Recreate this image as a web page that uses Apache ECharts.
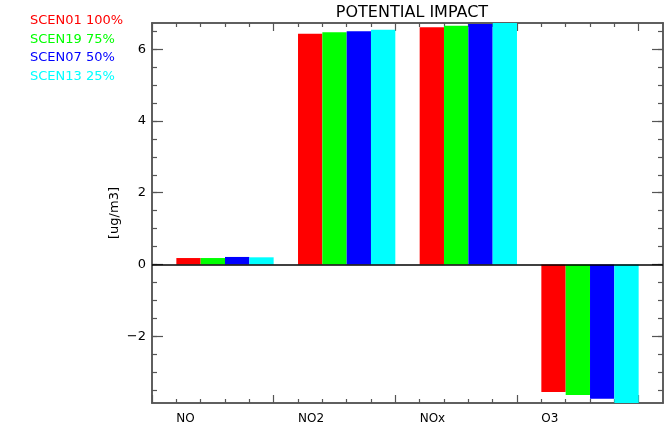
<!DOCTYPE html>
<html>
<head>
<meta charset="utf-8">
<script src="https://cdn.jsdelivr.net/npm/echarts@6/dist/echarts.min.js"></script>
<style>
html, body { margin: 0; padding: 0; background: #fff; }
#main { width: 668px; height: 432px; }
</style>
</head>
<body>
<div id="main"></div>
<script>
// pollutants along the x axis
var species = ['NO', 'NO2', 'NOx', 'O3'];
// scenarios, one bar per pollutant each
var scenNames = ['SCEN01 100%', 'SCEN19 75%', 'SCEN07 50%', 'SCEN13 25%'];
var scenColors = ['#ff0000', '#00ff00', '#0000ff', '#00ffff'];
var scen01 = [0.18, 6.43, 6.61, -3.55];
var scen19 = [0.18, 6.47, 6.65, -3.64];
var scen07 = [0.21, 6.50, 6.70, -3.74];
var scen13 = [0.20, 6.54, 6.73, -3.86];
var yMajor = [-2, 0, 2, 4, 6];
var yMinor = [-3.5, -3, -2.5, -2, -1.5, -1, -0.5, 0, 0.5, 1, 1.5, 2, 2.5, 3, 3.5, 4, 4.5, 5, 5.5, 6, 6.5];
var xMajor = [0, 5, 10, 15, 20];
var xMinor = [1, 2, 3, 4, 6, 7, 8, 9, 11, 12, 13, 14, 16, 17, 18, 19];

var allScen = [scen01, scen19, scen07, scen13];
var axisCol = '#555';
var font = 'DejaVu Sans';

var mychart = echarts.init(document.getElementById('main'));

function xAxisDef(pos, custom, len, withLabels) {
    return {
        type: 'value', position: pos, min: 0, max: 21,
        axisLine: {show: true, onZero: false, lineStyle: {color: axisCol, width: 1.5}},
        axisTick: {show: true, inside: true, length: len, customValues: custom,
            lineStyle: {color: axisCol, width: 1.2}},
        axisLabel: withLabels ? {
            show: true, customValues: species.map(function (s, i) { return 1 + 5 * i; }),
            formatter: function (v) { return species[Math.round((v - 1) / 5)]; },
            align: 'left', margin: 10, color: '#000', fontSize: 12, fontFamily: font
        } : {show: false},
        splitLine: {show: false}
    };
}
function yAxisDef(pos, custom, len, withLabels) {
    var ax = {
        type: 'value', position: pos, min: -3.86, max: 6.73,
        axisLine: {show: true, onZero: false, lineStyle: {color: axisCol, width: 1.5}},
        axisTick: {show: true, inside: true, length: len, customValues: custom,
            lineStyle: {color: axisCol, width: 1.2}},
        axisLabel: withLabels ? {
            show: true, customValues: yMajor, margin: 6,
            formatter: function (v) { return v < 0 ? '\u2212' + (-v) : '' + v; },
            color: '#000', fontSize: 13, fontFamily: font
        } : {show: false},
        splitLine: {show: false}
    };
    if (withLabels) {
        ax.name = '[ug/m3]';
        ax.nameLocation = 'middle';
        ax.nameRotate = 90;
        ax.nameGap = 31;
        ax.nameMoveOverlap = false;
        ax.nameTextStyle = {color: '#000', fontSize: 13, fontFamily: font};
    }
    return ax;
}

var series = scenNames.map(function (name, j) {
    var s = {
        name: name,
        type: 'bar',
        xAxisIndex: 0,
        yAxisIndex: 0,
        barWidth: 24.3,
        barGap: '-100%',
        itemStyle: {color: scenColors[j]},
        data: allScen[j].map(function (v, i) { return [1 + 5 * i + j + 0.5, v]; })
    };
    if (j === 0) {
        s.markLine = {
            silent: true, symbol: 'none', label: {show: false},
            lineStyle: {color: '#000', width: 1.5, type: 'solid'},
            data: [{yAxis: 0}]
        };
    }
    return s;
});

var option = {
    backgroundColor: '#fff',
    animation: false,
    title: {
        text: 'POTENTIAL IMPACT',
        left: 407, top: 0, textAlign: 'center',
        textStyle: {color: '#000', fontSize: 16, fontWeight: 'normal', fontFamily: font}
    },
    legend: {
        orient: 'vertical', left: 20, top: 9,
        itemWidth: 0, itemHeight: 14, itemGap: 5,
        selectedMode: false,
        data: scenNames.map(function (n, j) {
            return {name: n, icon: 'none', textStyle: {color: scenColors[j], fontSize: 13, fontFamily: font}};
        })
    },
    grid: {left: 152, right: 5, top: 23, bottom: 29},
    xAxis: [
        xAxisDef('bottom', xMajor, 8, true),
        xAxisDef('bottom', xMinor, 4, false),
        xAxisDef('top', xMajor, 8, false),
        xAxisDef('top', xMinor, 4, false)
    ],
    yAxis: [
        yAxisDef('left', yMajor, 11, true),
        yAxisDef('left', yMinor, 5, false),
        yAxisDef('right', yMajor, 11, false),
        yAxisDef('right', yMinor, 5, false)
    ],
    series: series
};

mychart.setOption(option);
</script>
</body>
</html>
